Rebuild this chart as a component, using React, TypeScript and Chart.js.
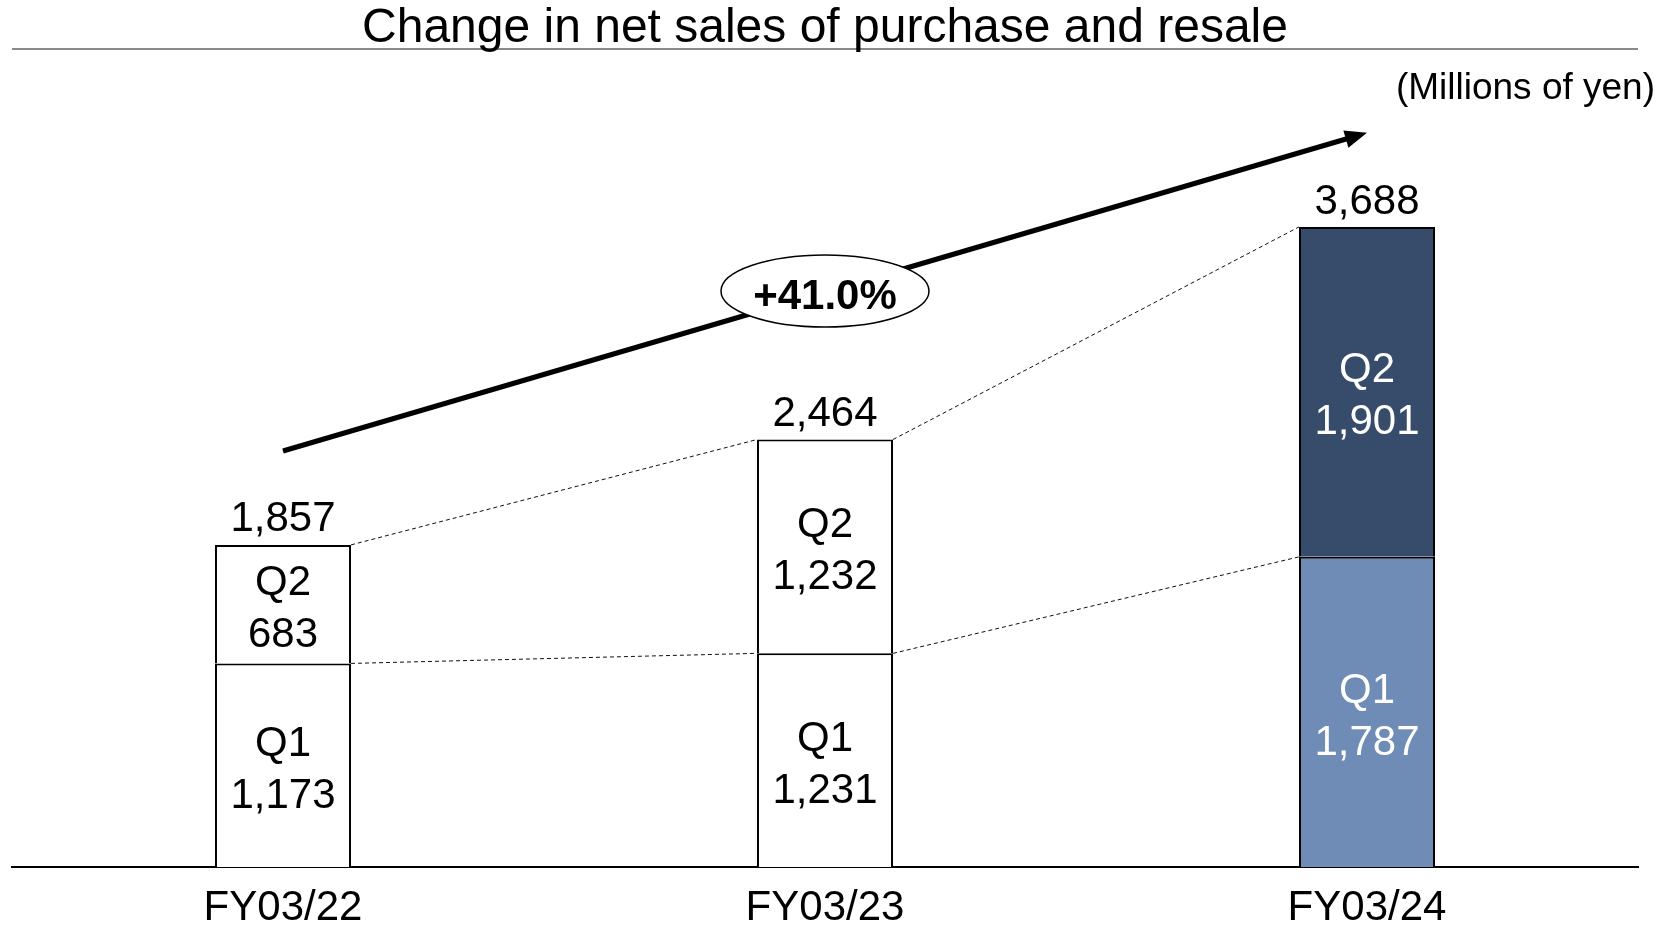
import React, { useEffect, useRef } from "react";
import { Chart, registerables } from "chart.js";

Chart.register(...registerables);

const categories = ["FY03/22", "FY03/23", "FY03/24"];
const q1Values = [1173, 1231, 1787];
const q2Values = [683, 1232, 1901];
const totalValues = [1857, 2464, 3688];
const segmentNames = ["Q1", "Q2"];
const q1Colors = ["#ffffff", "#ffffff", "#6F8CB6"];
const q2Colors = ["#ffffff", "#ffffff", "#374B6B"];
const labelColors = ["#000000", "#000000", "#ffffff"];
const growthLabel = "+41.0%";
const titleText = "Change in net sales of purchase and resale";
const unitText = "(Millions of yen)";
// annotation anchors, in data units of the value axis
const arrowStartValue = 2397;
const arrowEndValue = 4230;
const ellipseValue = 3319;

const FONT = '"Liberation Sans", Arial, Helvetica, sans-serif';
const fmt = (v: number) => v.toLocaleString("en-US");

const annotate = {
  id: "annotate",
  beforeDraw(chart: any) {
    const { ctx, chartArea } = chart;
    ctx.save();
    ctx.fillStyle = "#ffffff";
    ctx.fillRect(0, 0, chart.width, chart.height);
    // title rule
    ctx.strokeStyle = "#8a8a8a";
    ctx.lineWidth = 2;
    ctx.beginPath();
    ctx.moveTo(chartArea.left, 49);
    ctx.lineTo(chartArea.right, 49);
    ctx.stroke();
    // title
    ctx.fillStyle = "#000";
    ctx.font = `48px ${FONT}`;
    ctx.textAlign = "center";
    ctx.textBaseline = "alphabetic";
    ctx.fillText(titleText, (chartArea.left + chartArea.right) / 2, 42);
    // unit
    ctx.font = `37px ${FONT}`;
    ctx.textAlign = "right";
    ctx.fillText(unitText, chart.width - 7, 99);
    ctx.restore();
  },
  afterDatasetsDraw(chart: any) {
    const { ctx, scales } = chart;
    const x = scales.x;
    const y = scales.y;
    const m0 = chart.getDatasetMeta(0);
    const m1 = chart.getDatasetMeta(1);

    // dashed connectors
    ctx.save();
    ctx.setLineDash([4, 3]);
    ctx.lineWidth = 1;
    ctx.strokeStyle = "#111";
    for (let i = 0; i < categories.length - 1; i++) {
      for (const m of [m0, m1]) {
        const a = m.data[i];
        const b = m.data[i + 1];
        ctx.beginPath();
        ctx.moveTo(a.x + a.width / 2, a.y);
        ctx.lineTo(b.x - b.width / 2, b.y);
        ctx.stroke();
      }
    }
    ctx.restore();

    // segment labels
    ctx.save();
    ctx.font = `42px ${FONT}`;
    ctx.textAlign = "center";
    ctx.textBaseline = "middle";
    [m0, m1].forEach((m, d) => {
      const vals = d === 0 ? q1Values : q2Values;
      m.data.forEach((el: any, i: number) => {
        const mid = (el.y + el.base) / 2;
        ctx.fillStyle = labelColors[i];
        ctx.fillText(segmentNames[d], el.x, mid - 21);
        ctx.fillText(fmt(vals[i]), el.x, mid + 31);
      });
    });
    // totals
    ctx.fillStyle = "#000";
    m1.data.forEach((el: any, i: number) => {
      ctx.fillText(fmt(totalValues[i]), el.x, el.y - 25);
    });
    ctx.restore();

    // arrow
    const x0 = x.getPixelForValue(0);
    const y0 = y.getPixelForValue(arrowStartValue);
    const x1 = x.getPixelForValue(categories.length - 1);
    const y1 = y.getPixelForValue(arrowEndValue);
    const ang = Math.atan2(y1 - y0, x1 - x0);
    const headLen = 22;
    const headHalf = 9;
    ctx.save();
    ctx.strokeStyle = "#000";
    ctx.fillStyle = "#000";
    ctx.lineWidth = 5;
    ctx.beginPath();
    ctx.moveTo(x0, y0);
    ctx.lineTo(x1 - Math.cos(ang) * (headLen - 2), y1 - Math.sin(ang) * (headLen - 2));
    ctx.stroke();
    ctx.beginPath();
    ctx.moveTo(x1, y1);
    const bx = x1 - Math.cos(ang) * headLen;
    const by = y1 - Math.sin(ang) * headLen;
    ctx.lineTo(bx + Math.sin(ang) * headHalf, by - Math.cos(ang) * headHalf);
    ctx.lineTo(bx - Math.sin(ang) * headHalf, by + Math.cos(ang) * headHalf);
    ctx.closePath();
    ctx.fill();

    // ellipse
    const ex = x.getPixelForValue(1);
    const ey = y.getPixelForValue(ellipseValue);
    ctx.beginPath();
    ctx.ellipse(ex, ey, 104, 36, 0, 0, Math.PI * 2);
    ctx.fillStyle = "#fff";
    ctx.fill();
    ctx.lineWidth = 1.5;
    ctx.strokeStyle = "#000";
    ctx.stroke();
    ctx.fillStyle = "#000";
    ctx.font = `bold 42px ${FONT}`;
    ctx.textAlign = "center";
    ctx.textBaseline = "middle";
    ctx.fillText(growthLabel, ex, ey + 6);
    ctx.restore();
  },
};

export default function App() {
  const ref = useRef<HTMLCanvasElement | null>(null);
  useEffect(() => {
    if (!ref.current) return;
    const chart = new Chart(ref.current, {
      type: "bar",
      data: {
        labels: categories,
        datasets: [
          {
            label: segmentNames[0],
            data: q1Values,
            backgroundColor: q1Colors,
            borderColor: "#000",
            borderWidth: { top: 2, left: 2, right: 2, bottom: 0 },
            borderSkipped: false,
            categoryPercentage: 1,
            barPercentage: 0.251,
          },
          {
            label: segmentNames[1],
            data: q2Values,
            backgroundColor: q2Colors,
            borderColor: "#000",
            borderWidth: { top: 2, left: 2, right: 2, bottom: 0 },
            borderSkipped: false,
            categoryPercentage: 1,
            barPercentage: 0.251,
          },
        ],
      },
      options: {
        responsive: false,
        animation: false,
        devicePixelRatio: 1,
        layout: { padding: { left: 12, right: 24, top: 86, bottom: 0 } },
        plugins: {
          legend: { display: false },
          tooltip: { enabled: false },
          title: { display: false },
        },
        scales: {
          x: {
            stacked: true,
            grid: { display: false, drawTicks: false },
            border: { display: true, color: "#000", width: 2 },
            ticks: {
              color: "#000",
              padding: 20,
              font: { family: FONT, size: 42, lineHeight: 1 },
            },
            afterFit: (scale: any) => {
              scale.height = 59;
            },
          },
          y: {
            stacked: true,
            display: false,
            min: 0,
            max: 4500,
            grid: { display: false },
          },
        },
      },
      plugins: [annotate],
    });
    return () => chart.destroy();
  }, []);
  return (
    <div style={{ position: "fixed", left: 0, top: 0, width: 1662, height: 926, background: "#fff" }}>
      <canvas ref={ref} width={1662} height={926} style={{ display: "block" }} />
    </div>
  );
}
